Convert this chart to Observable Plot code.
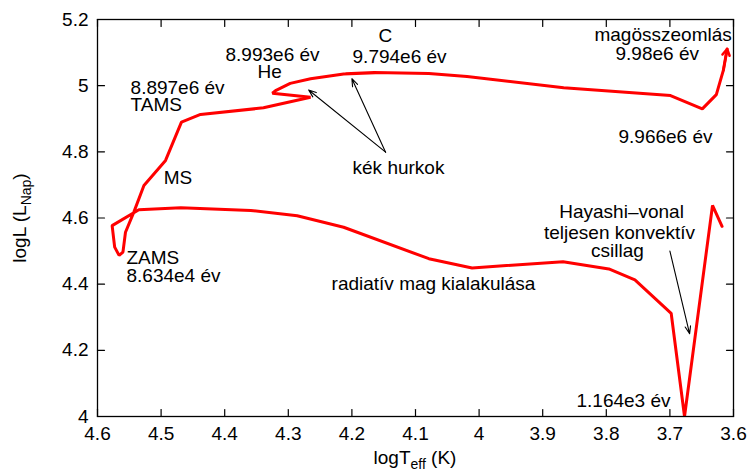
<!DOCTYPE html>
<html><head><meta charset="utf-8">
<script src="https://cdn.jsdelivr.net/npm/d3@7"></script>
<script src="https://cdn.jsdelivr.net/npm/@observablehq/plot@0.6"></script>
<style>body{margin:0;background:#fff}</style>
</head><body><div id="chart"></div>
<script>
// Evolutionary track (in time order)
const logTeff = [3.618,3.633,3.677,3.698,3.755,3.796,3.868,4.011,4.079,4.213,4.286,4.359,4.469,4.535,4.577,4.573,4.566,4.560,4.556,4.543,4.527,4.493,4.468,4.438,4.339,4.265,4.325,4.320,4.297,4.265,4.213,4.163,4.210,4.165,4.079,4.019,3.867,3.699,3.649,3.627,3.616,3.610];
const logL    = [4.575,4.638,4.000,4.312,4.413,4.446,4.468,4.449,4.477,4.572,4.607,4.623,4.631,4.625,4.577,4.512,4.487,4.497,4.557,4.617,4.698,4.774,4.890,4.913,4.933,4.965,4.977,4.985,5.007,5.021,5.035,5.039,5.036,5.040,5.037,5.028,4.994,4.970,4.930,4.973,5.046,5.111];

const xTicks = [4.6,4.5,4.4,4.3,4.2,4.1,4.0,3.9,3.8,3.7,3.6];
const yTicks = [4.0,4.2,4.4,4.6,4.8,5.0,5.2];

// annotation texts
const labelText = ["8.993e6 év","He","C","9.794e6 év","8.897e6 év","TAMS","MS","kék hurkok","magösszeomlás","9.98e6 év","9.966e6 év","ZAMS","8.634e4 év","radiatív mag kialakulása","1.164e3 év","Hayashi–vonal","teljesen konvektív","csillag"];
const labelX = [4.3987,4.3484,4.1582,4.199,4.548,4.548,4.496,4.199,3.8186,3.7855,3.7808,4.5544,4.5544,4.2320,3.8469,3.776,3.7792,3.7824];
const labelY = [5.094,5.043,5.150,5.088,4.994,4.943,4.722,4.750,5.152,5.096,4.846,4.4805,4.426,4.402,4.0483,4.617,4.556,4.502];
const labelAnchor = ["start","start","start","start","start","start","start","start","start","start","start","start","start","start","start","middle","middle","middle"];

// annotation arrows
const arrowX1 = [4.147,4.147,3.700];
const arrowY1 = [4.799,4.799,4.500];
const arrowX2 = [4.268,4.200,3.669];
const arrowY2 = [4.987,5.021,4.250];

const track = logTeff.map((t,i)=>({t, L: logL[i]}));
const labels = labelText.map((s,i)=>({s, x: labelX[i], y: labelY[i], a: labelAnchor[i]}));
const arrows = arrowX1.map((d,i)=>({x1:d, y1:arrowY1[i], x2:arrowX2[i], y2:arrowY2[i]}));
const n = track.length;
const lastSeg = [{x1: track[n-2].t, y1: track[n-2].L, x2: track[n-1].t, y2: track[n-1].L}];

const tickShape = {draw(ctx, l){ ctx.moveTo(0,0); ctx.lineTo(0,-l); }};
const FONT = "'Liberation Sans', Arial, Helvetica, sans-serif";
const FS = 19;

const chart = Plot.plot({
  width: 749, height: 473,
  marginLeft: 97, marginRight: 16, marginTop: 19, marginBottom: 57,
  style: {fontFamily: FONT, fontSize: FS + "px", background: "#fff", color: "#000"},
  x: {domain: [4.6, 3.6], ticks: xTicks, tickFormat: d3.format("")},
  y: {domain: [4.0, 5.2], ticks: yTicks, tickFormat: d3.format("")},
  marks: [
    Plot.axisX({anchor: "bottom", ticks: xTicks, tickSize: 0, tickPadding: 10, label: null, tickFormat: d3.format(""), fontSize: FS}),
    Plot.axisY({anchor: "left", ticks: yTicks, tickSize: 0, tickPadding: 9, label: null, tickFormat: d3.format(""), fontSize: FS}),
    Plot.vector(xTicks, {x: d=>d, frameAnchor: "bottom", length: 7, rotate: 0, anchor: "start", shape: tickShape, stroke: "#000", strokeWidth: 1.2}),
    Plot.vector(xTicks, {x: d=>d, frameAnchor: "top", length: 7, rotate: 180, anchor: "start", shape: tickShape, stroke: "#000", strokeWidth: 1.2}),
    Plot.vector(yTicks, {y: d=>d, frameAnchor: "left", length: 7, rotate: 90, anchor: "start", shape: tickShape, stroke: "#000", strokeWidth: 1.2}),
    Plot.vector(yTicks, {y: d=>d, frameAnchor: "right", length: 7, rotate: -90, anchor: "start", shape: tickShape, stroke: "#000", strokeWidth: 1.2}),
    Plot.line(track, {x: "t", y: "L", stroke: "#ff0000", strokeWidth: 3, strokeLinejoin: "miter"}),
    Plot.arrow(lastSeg, {x1: "x1", y1: "y1", x2: "x2", y2: "y2", stroke: "#ff0000", strokeWidth: 2.5, headLength: 6, headAngle: 60}),
    Plot.arrow(arrows, {x1: "x1", y1: "y1", x2: "x2", y2: "y2", stroke: "#000", strokeWidth: 1.1, headLength: 11, headAngle: 40}),
    Plot.text(labels.filter(d=>d.a==="start"), {x: "x", y: "y", text: "s", textAnchor: "start", fill: "#000", fontSize: FS}),
    Plot.text(labels.filter(d=>d.a==="middle"), {x: "x", y: "y", text: "s", textAnchor: "middle", fill: "#000", fontSize: FS}),
    Plot.frame({stroke: "#000", strokeWidth: 1.3})
  ]
});
document.getElementById("chart").appendChild(chart);

// axis titles with subscripts
const svg = d3.select(chart);
const xt = svg.append("text").attr("x", 415).attr("y", 464).attr("text-anchor", "middle")
  .attr("font-family", FONT).attr("font-size", FS).attr("fill", "#000");
xt.append("tspan").text("logT");
xt.append("tspan").attr("font-size", 14).attr("dy", 5).text("eff");
xt.append("tspan").attr("dy", -5).text(" (K)");

const yt = svg.append("text").attr("transform", "translate(26,218) rotate(-90)").attr("text-anchor", "middle")
  .attr("font-family", FONT).attr("font-size", FS).attr("fill", "#000");
yt.append("tspan").text("logL (L");
yt.append("tspan").attr("font-size", 14).attr("dy", 5).text("Nap");
yt.append("tspan").attr("dy", -5).text(")");
</script>
</body></html>
